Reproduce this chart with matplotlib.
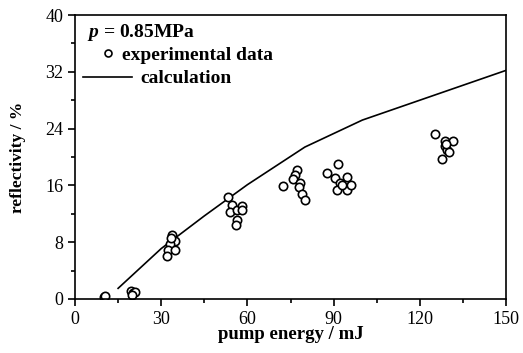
import matplotlib.pyplot as plt
from matplotlib.lines import Line2D
from matplotlib.ticker import MultipleLocator

# measured points (pump energy mJ, reflectivity %)
exp_x = [10, 10.3,
         19.5, 20.2, 20.8, 20,
         33.6, 34.8, 33.1, 32.5, 31.9, 34.8, 33.4,
         53.4, 54.5, 54, 56.3, 58, 58, 56.5, 55.9,
         72.5, 77.1, 76.6, 76, 78.3, 78, 78.9, 80,
         91.6, 87.6, 90.5, 94.6, 92.2, 91.1, 94.6, 96, 93,
         125.3, 128.8, 131.7, 128.8, 129.5, 130, 127.6, 129.2]
exp_y = [0.3, 0.4,
         1.1, 0.8, 1.0, 0.6,
         9.0, 8.2, 7.8, 6.9, 6.0, 6.9, 8.6,
         14.3, 13.2, 12.3, 12.5, 13.1, 12.5, 11.1, 10.4,
         15.9, 18.2, 17.5, 16.9, 16.3, 15.8, 14.8, 13.9,
         19.0, 17.7, 17.0, 17.2, 16.3, 15.3, 15.3, 16.0, 16.0,
         23.2, 22.2, 22.3, 21.5, 21.0, 20.7, 19.7, 21.8]

# calculation curve
calc_x = [15, 30, 45, 60, 80, 100, 150]
calc_y = [1.5, 7.1, 11.7, 16.1, 21.4, 25.2, 32.2]

plt.rcParams['font.family'] = ['Liberation Serif', 'DejaVu Serif']
plt.rcParams['mathtext.fontset'] = 'custom'
plt.rcParams['mathtext.it'] = 'Liberation Serif:italic:bold'

fig = plt.figure(figsize=(5.23, 3.53), dpi=100)
ax = fig.add_axes([0.1434, 0.153, 0.8241, 0.8045])

ax.plot(calc_x, calc_y, color="black", lw=1.2)
ax.plot(exp_x, exp_y, "o", mfc="white", mec="black", ms=6, mew=1.2)

ax.set_xlim(0, 150)
ax.set_ylim(0, 40)
ax.xaxis.set_major_locator(MultipleLocator(30))
ax.xaxis.set_minor_locator(MultipleLocator(15))
ax.yaxis.set_major_locator(MultipleLocator(8))
ax.yaxis.set_minor_locator(MultipleLocator(4))
ax.tick_params(which="both", direction="out", labelsize=13, width=1.2)
ax.tick_params(which="major", length=5)
ax.tick_params(which="minor", length=3)
for s in ax.spines.values():
    s.set_linewidth(1.2)

ax.set_xlabel("pump energy / mJ", fontsize=13.5, fontweight="bold", labelpad=-1)
ax.set_ylabel("reflectivity / %", fontsize=12.5, fontweight="bold", labelpad=14)

ax.text(0.028, 0.94, r"$p$ = 0.85MPa", transform=ax.transAxes,
        fontsize=14, fontweight="bold", va="center")

# two separate legends so the texts start at different places like the original
h1 = Line2D([], [], ls="none", marker="o", mfc="white", mec="black", ms=5, mew=1.2)
h2 = Line2D([], [], color="black", lw=1.2)
leg1 = ax.legend([h1], ["experimental data"], loc="center left",
                 bbox_to_anchor=(0.054, 0.859), frameon=False, handlelength=1.0,
                 handletextpad=0.2, borderpad=0, borderaxespad=0,
                 prop={"weight": "bold", "size": 14})
ax.add_artist(leg1)
ax.legend([h2], ["calculation"], loc="center left",
          bbox_to_anchor=(0.019, 0.776), frameon=False, handlelength=2.5,
          handletextpad=0.45, borderpad=0, borderaxespad=0,
          prop={"weight": "bold", "size": 14})

fig.savefig("out.png", dpi=100)
